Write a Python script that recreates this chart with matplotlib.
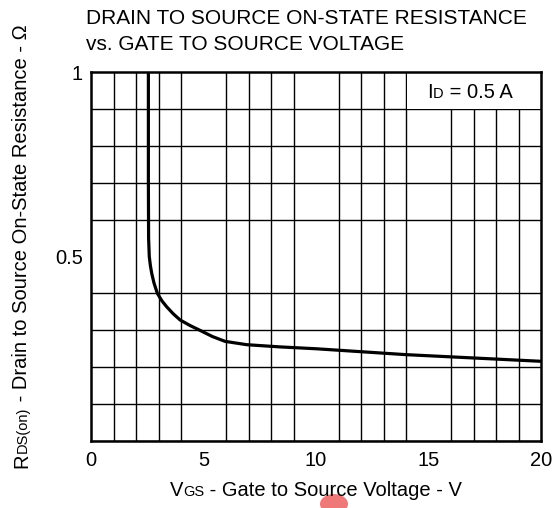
import matplotlib
matplotlib.use("Agg")
import matplotlib.pyplot as plt
from matplotlib.patches import Rectangle, Ellipse
from matplotlib.transforms import IdentityTransform

plt.rcParams['font.family'] = ['Liberation Sans', 'DejaVu Sans']

# curve
vgs = [2.55, 2.55, 2.56, 2.59, 2.64, 2.70, 2.80, 2.95, 3.15, 3.36, 3.65, 3.96, 4.40, 4.84,
       5.40, 5.96, 6.92, 8.4, 10.0, 11.0, 12.0, 13.0, 14.0, 15.0, 16.0, 17.0, 18.0, 19.0, 20.0]
rds = [1.00, 0.70, 0.55, 0.50, 0.475, 0.454, 0.428, 0.400, 0.380, 0.364, 0.345, 0.328, 0.313, 0.300,
       0.283, 0.270, 0.261, 0.255, 0.250, 0.246, 0.242, 0.238, 0.234, 0.231, 0.228, 0.225, 0.222, 0.219, 0.216]

x_ticks = [0, 5, 10, 15, 20]
y_ticks = [0.5, 1.0]
y_ticklabels = ['0.5', '1']

W, H = 553, 508
fig = plt.figure(figsize=(W / 100, H / 100), dpi=100)
ax = fig.add_axes([91 / W, 1 - 441 / H, 450 / W, 369 / H])

ax.plot(vgs, rds, color='black', lw=2.3, solid_capstyle='butt', zorder=3)
ax.set_xlim(0, 20)
ax.set_ylim(0, 1)

ax.set_xticks(x_ticks)
ax.set_yticks(y_ticks)
ax.set_yticklabels(y_ticklabels)
ax.set_xticks(range(21), minor=True)
ax.set_yticks([i / 10 for i in range(11)], minor=True)
ax.tick_params(which='both', length=0, labelsize=14.5)
ax.tick_params(axis='x', pad=7)
ax.tick_params(axis='y', pad=6)
ax.set_axisbelow(True)
ax.grid(which='minor', color='black', lw=1.0)
for s in ax.spines.values():
    s.set_linewidth(1.8)

# white box behind the current label
ax.add_patch(Rectangle((14.06, 0.9), 5.94, 0.1, facecolor='white', edgecolor='none', zorder=1))

fig.text(86 / W, 1 - 24 / H, 'DRAIN TO SOURCE ON-STATE RESISTANCE', fontsize=15, va='baseline')
fig.text(86 / W, 1 - 50 / H, 'vs. GATE TO SOURCE VOLTAGE', fontsize=15, va='baseline')

fig.canvas.draw()
renderer = fig.canvas.get_renderer()


def rich(pieces, x, y, rotation=0):
    # pieces placed one after another on a common baseline, centred on (x, y) in pixels
    arts = []
    for s, fs in pieces:
        arts.append(fig.text(0, 0, s, fontsize=fs, transform=IdentityTransform(),
                             ha='left', va='baseline', rotation=rotation,
                             rotation_mode='anchor'))
    sizes = []
    for t in arts:
        bb = t.get_window_extent(renderer)
        sizes.append(bb.height if rotation else bb.width)
    pos = -sum(sizes) / 2
    for t, w in zip(arts, sizes):
        if rotation:
            t.set_position((x, y + pos))
        else:
            t.set_position((x + pos, y))
        pos += w


rich([('I', 14.5), ('D', 10.5), (' = 0.5 A', 14.5)], 470, H - 98)
rich([('V', 14.5), ('GS', 10.5), (' - Gate to Source Voltage - V', 14.5)], 316, H - 496)
rich([('R', 14.5), ('DS(on)', 10.5), (' - Drain to Source On-State Resistance - \u03a9', 14.5)],
     27, H - 246, rotation=90)

fig.add_artist(Ellipse((334, 4), 28, 20, transform=IdentityTransform(),
                       facecolor='#ee6b6b', edgecolor='none', alpha=0.9, zorder=0.5))

fig.savefig('out.png', dpi=100)
